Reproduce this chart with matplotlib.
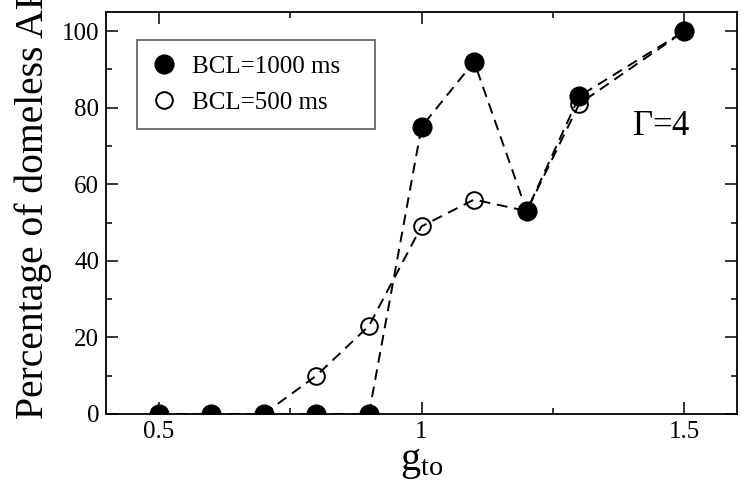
import numpy as np
import matplotlib.pyplot as plt
from matplotlib.ticker import MultipleLocator

plt.rcParams['font.family'] = ['Liberation Serif', 'DejaVu Serif']
plt.rcParams['mathtext.fontset'] = 'custom'
plt.rcParams['mathtext.rm'] = 'Liberation Serif'

# data
g_to = [0.5, 0.6, 0.7, 0.8, 0.9, 1.0, 1.1, 1.2, 1.3, 1.5]
bcl_1000 = [0, 0, 0, 0, 0, 75, 92, 53, 83, 100]
bcl_500 = [0, 0, 0, 10, 23, 49, 56, 53, 81, 100]

fig = plt.figure(figsize=(7.45, 4.83), dpi=100)
ax = fig.add_axes([0.1423, 0.1429, 0.847, 0.8323])

dash = (0, (5.5, 3.5))
ax.plot(g_to, bcl_500, color='black', lw=1.4, linestyle=dash,
        marker='o', markersize=12, markerfacecolor='none',
        markeredgecolor='black', markeredgewidth=1.4, label='BCL=500 ms', zorder=2)
ax.plot(g_to, bcl_1000, color='black', lw=1.4, linestyle=dash,
        marker='o', markersize=13.5, markerfacecolor='black',
        markeredgecolor='black', label='BCL=1000 ms', zorder=3)

ax.set_xlim(0.4, 1.6)
ax.set_ylim(0, 105)
ax.xaxis.set_major_locator(MultipleLocator(0.5))
ax.xaxis.set_minor_locator(MultipleLocator(0.25))
ax.yaxis.set_major_locator(MultipleLocator(20))
ax.yaxis.set_minor_locator(MultipleLocator(10))
ax.set_xticks([0.5, 1.0, 1.5])
ax.set_xticklabels(['0.5', '1', '1.5'])

ax.tick_params(which='both', direction='in', top=True, right=True,
               labelsize=18, width=1.1)
ax.tick_params(which='major', length=8.5, pad=5)
ax.tick_params(which='minor', length=4.5)
for s in ax.spines.values():
    s.set_linewidth(1.3)

ax.set_xlabel(r'$\mathrm{g_{to}}$', fontsize=29, labelpad=1)
ax.set_ylabel('Percentage of domeless AP', fontsize=28.5, labelpad=7)
ax.yaxis.label.set_y(0.525)

ax.text(0.833, 0.714, r'$\Gamma$=4', transform=ax.transAxes, fontsize=25,
        ha='left', va='center')

h, l = ax.get_legend_handles_labels()
leg = ax.legend(h[::-1], l[::-1], loc='upper left',
                bbox_to_anchor=(0.049, 0.83, 0.377, 0.1), mode='expand',
                fontsize=18, frameon=True,
                fancybox=False, edgecolor='#333333', borderpad=0.6,
                handlelength=1.0, handletextpad=0.6, labelspacing=0.55,
                borderaxespad=0)
leg.get_frame().set_linewidth(1.2)
for line in leg.get_lines():
    line.set_linestyle('none')

fig.savefig('out.png', dpi=100)
